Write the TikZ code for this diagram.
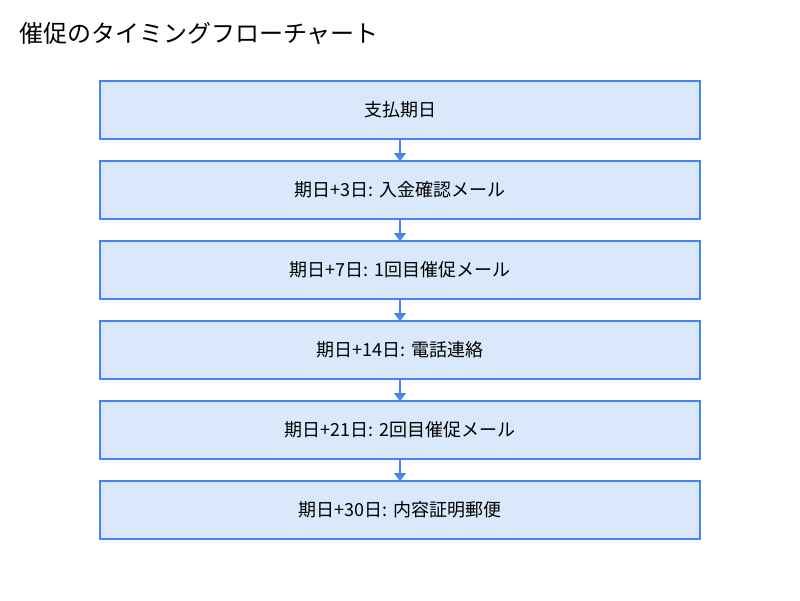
\documentclass[tikz,border=0pt]{standalone}
\usepackage{fontspec}
\setmainfont{Noto Sans CJK JP}
\usepackage{tikz}
\usetikzlibrary{arrows.meta,positioning}
\definecolor{boxline}{RGB}{66,133,244}
\definecolor{boxfill}{RGB}{218,232,252}
\tikzset{
	stepbox/.style={draw=boxline, fill=boxfill, line width=2pt, minimum width=600pt, minimum height=58pt, outer sep=0pt, inner sep=0pt, font=\fontsize{18}{20}\selectfont},
	flow/.style={draw=boxline, line width=2pt, -{Triangle[length=8pt,width=12pt]}}
}

\begin{document}
\begin{tikzpicture}[
    x=1pt, y=-1pt,
    node distance=22pt,
    every node/.style={align=center}
]
\useasboundingbox (0,0) rectangle (800,600);

% Title
\node[anchor=west, font=\fontsize{24}{28}\selectfont, inner sep=0pt] (title) at (19,33) {催促のタイミングフローチャート};

% Nodes
\node[stepbox] (due) at (400,110) {支払期日};
\node[stepbox, below=of due] (d3) {期日+3日: 入金確認メール};
\node[stepbox, below=of d3] (d7) {期日+7日: 1回目催促メール};
\node[stepbox, below=of d7] (d14) {期日+14日: 電話連絡};
\node[stepbox, below=of d14] (d21) {期日+21日: 2回目催促メール};
\node[stepbox, below=of d21] (d30) {期日+30日: 内容証明郵便};

% Arrows
\draw[flow] (due) -- (d3);
\draw[flow] (d3) -- (d7);
\draw[flow] (d7) -- (d14);
\draw[flow] (d14) -- (d21);
\draw[flow] (d21) -- (d30);

\end{tikzpicture}
\end{document}
